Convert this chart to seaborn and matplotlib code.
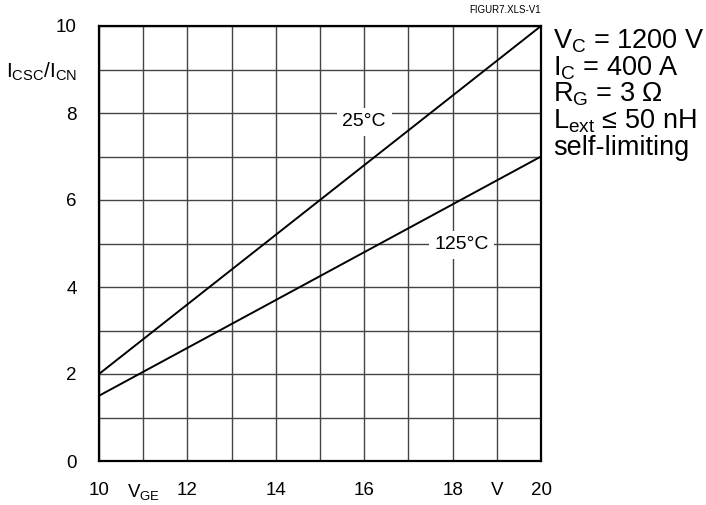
import numpy as np
import pandas as pd
import seaborn as sns
import matplotlib.pyplot as plt

# valeurs
v_ge = [10, 20]
i_25 = [2.0, 10.0]
i_125 = [1.5, 7.0]

x_ticks = list(range(10, 21))
x_labels = ["10", r"$\mathregular{V_{GE}}$", "12", "", "14", "", "16", "", "18", "V", "20"]
y_ticks = list(range(0, 11))
y_labels = ["0", "", "2", "", "4", "", "6", "", "8", r"$\mathregular{I_{CSC}/I_{CN}}$", "10"]

conditions = [r"$\mathregular{V_C}$ = 1200 V",
              r"$\mathregular{I_C}$ = 400 A",
              r"$\mathregular{R_G}$ = 3 Ω",
              r"$\mathregular{L_{ext}}$ ≤ 50 nH",
              "self-limiting"]

donnees = pd.concat([
    pd.DataFrame({"vge": v_ge, "ratio": i_25, "temp": "25°C"}),
    pd.DataFrame({"vge": v_ge, "ratio": i_125, "temp": "125°C"}),
])

sns.set_style("white")
plt.rcParams["font.family"] = ["Liberation Sans", "DejaVu Sans"]
plt.rcParams["mathtext.fontset"] = "custom"
plt.rcParams["mathtext.rm"] = "Liberation Sans"
plt.rcParams["text.color"] = "black"
plt.rcParams["xtick.color"] = "black"
plt.rcParams["ytick.color"] = "black"

fig = plt.figure(figsize=(7.06, 5.05), dpi=100)
ax = fig.add_axes([99 / 706, 1 - 461 / 505, 442 / 706, 435 / 505])

sns.lineplot(data=donnees, x="vge", y="ratio", hue="temp",
             palette=["black", "black"], linewidth=1.4, legend=False, ax=ax, zorder=3)

ax.set_xlim(10, 20)
ax.set_ylim(0, 10)
ax.set_xticks(x_ticks)
ax.set_xticklabels(x_labels)
ax.set_yticks(y_ticks)
ax.set_yticklabels(y_labels)
ax.tick_params(length=0, labelsize=13.5, labelcolor="black")
ax.tick_params(axis="x", pad=15)
ax.tick_params(axis="y", pad=16)
ax.get_yticklabels()[9].set_fontsize(15)
ax.grid(True, color="#444444", linewidth=1.0)
ax.set_xlabel("")
ax.set_ylabel("")
for s in ax.spines.values():
    s.set_color("black")
    s.set_linewidth(1.6)

# étiquettes des courbes
boite = dict(facecolor="white", edgecolor="none", pad=4)
ax.text(16.0, 7.8, "25°C", ha="center", va="center", fontsize=14, bbox=boite, zorder=4)
ax.text(18.2, 4.97, "125°C", ha="center", va="center", fontsize=14, bbox=boite, zorder=4)

fig.text(541 / 706, 1 - 10 / 505, "FIGUR7.XLS-V1", ha="right", va="center", fontsize=7)

for k, txt in enumerate(conditions):
    fig.text(553 / 706, 1 - (48.5 + 26.7 * k) / 505, txt, ha="left", va="baseline", fontsize=19.5)

plt.savefig("out.png", dpi=100)
